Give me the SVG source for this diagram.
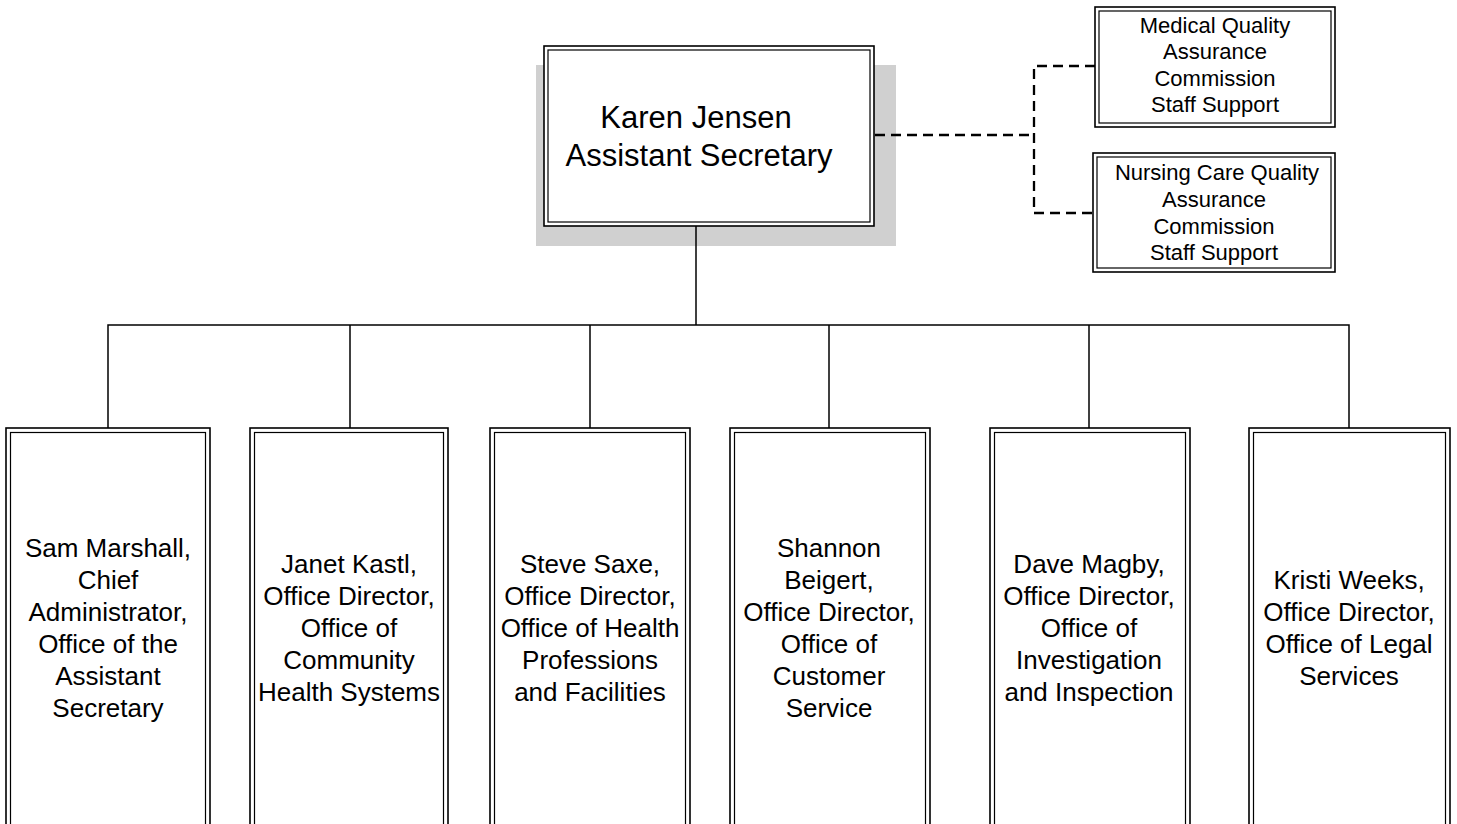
<svg xmlns="http://www.w3.org/2000/svg" width="1457" height="824" viewBox="0 0 1457 824">
<style>
.o{fill:#fff;stroke:#000;stroke-width:1.6}
.i{fill:none;stroke:#000;stroke-width:1.2}
.t{font-family:"Liberation Sans",Arial,sans-serif;text-anchor:middle;fill:#000}
.c{font-size:26px}
.s{font-size:22px}
.m{font-size:31px}
.ln{stroke:#000;stroke-width:1.5;fill:none}
.d{stroke:#000;stroke-width:2.3;fill:none;stroke-dasharray:10,6}
</style>
<rect width="1457" height="824" fill="#fff"/>
<g id="karen">
<rect x="536" y="65" width="360" height="181" fill="#d0d0d0"/>
<rect class="o" x="544" y="46" width="330" height="180"/>
<rect class="i" x="548" y="50" width="322" height="172"/>
<text class="t m" x="696" y="128">Karen Jensen</text>
<text class="t m" x="699" y="166">Assistant Secretary</text>
</g>
<g id="medical">
<rect class="o" x="1095" y="7" width="240" height="120"/>
<rect class="i" x="1099" y="11" width="232" height="112"/>
<text class="t s" x="1215" y="33">Medical Quality</text>
<text class="t s" x="1215" y="59">Assurance</text>
<text class="t s" x="1215" y="86">Commission</text>
<text class="t s" x="1215" y="112">Staff Support</text>
</g>
<g id="nursing">
<rect class="o" x="1093" y="153" width="242" height="119"/>
<rect class="i" x="1097" y="157" width="234" height="111"/>
<text class="t s" x="1217" y="180">Nursing Care Quality</text>
<text class="t s" x="1214" y="207">Assurance</text>
<text class="t s" x="1214" y="234">Commission</text>
<text class="t s" x="1214" y="260">Staff Support</text>
</g>
<g id="sam">
<rect class="o" x="6" y="428" width="204" height="410"/>
<rect class="i" x="10.5" y="432.5" width="195" height="410"/>
<text class="t c" x="108" y="557">Sam Marshall,</text>
<text class="t c" x="108" y="589">Chief</text>
<text class="t c" x="108" y="621">Administrator,</text>
<text class="t c" x="108" y="653">Office of the</text>
<text class="t c" x="108" y="685">Assistant</text>
<text class="t c" x="108" y="717">Secretary</text>
</g>
<g id="janet">
<rect class="o" x="250" y="428" width="198" height="410"/>
<rect class="i" x="254.5" y="432.5" width="189" height="410"/>
<text class="t c" x="349" y="573">Janet Kastl,</text>
<text class="t c" x="349" y="605">Office Director,</text>
<text class="t c" x="349" y="637">Office of</text>
<text class="t c" x="349" y="669">Community</text>
<text class="t c" x="349" y="701">Health Systems</text>
</g>
<g id="steve">
<rect class="o" x="490" y="428" width="200" height="410"/>
<rect class="i" x="494.5" y="432.5" width="191" height="410"/>
<text class="t c" x="590" y="573">Steve Saxe,</text>
<text class="t c" x="590" y="605">Office Director,</text>
<text class="t c" x="590" y="637">Office of Health</text>
<text class="t c" x="590" y="669">Professions</text>
<text class="t c" x="590" y="701">and Facilities</text>
</g>
<g id="shannon">
<rect class="o" x="730" y="428" width="200" height="410"/>
<rect class="i" x="734.5" y="432.5" width="191" height="410"/>
<text class="t c" x="829" y="557">Shannon</text>
<text class="t c" x="829" y="589">Beigert,</text>
<text class="t c" x="829" y="621">Office Director,</text>
<text class="t c" x="829" y="653">Office of</text>
<text class="t c" x="829" y="685">Customer</text>
<text class="t c" x="829" y="717">Service</text>
</g>
<g id="dave">
<rect class="o" x="990" y="428" width="200" height="410"/>
<rect class="i" x="994.5" y="432.5" width="191" height="410"/>
<text class="t c" x="1089" y="573">Dave Magby,</text>
<text class="t c" x="1089" y="605">Office Director,</text>
<text class="t c" x="1089" y="637">Office of</text>
<text class="t c" x="1089" y="669">Investigation</text>
<text class="t c" x="1089" y="701">and Inspection</text>
</g>
<g id="kristi">
<rect class="o" x="1249" y="428" width="201" height="410"/>
<rect class="i" x="1253.5" y="432.5" width="192" height="410"/>
<text class="t c" x="1349" y="589">Kristi Weeks,</text>
<text class="t c" x="1349" y="621">Office Director,</text>
<text class="t c" x="1349" y="653">Office of Legal</text>
<text class="t c" x="1349" y="685">Services</text>
</g>
<g id="connectors">
<line class="ln" x1="696" y1="226" x2="696" y2="325"/>
<polyline class="ln" points="108,428 108,325 1349,325 1349,428"/>
<line class="ln" x1="350" y1="325" x2="350" y2="428"/>
<line class="ln" x1="590" y1="325" x2="590" y2="428"/>
<line class="ln" x1="829" y1="325" x2="829" y2="428"/>
<line class="ln" x1="1089" y1="325" x2="1089" y2="428"/>
<line class="d" x1="875" y1="135" x2="1034" y2="135"/>
<polyline class="d" points="1095,66 1034,66 1034,213 1093,213"/>
</g>
</svg>
